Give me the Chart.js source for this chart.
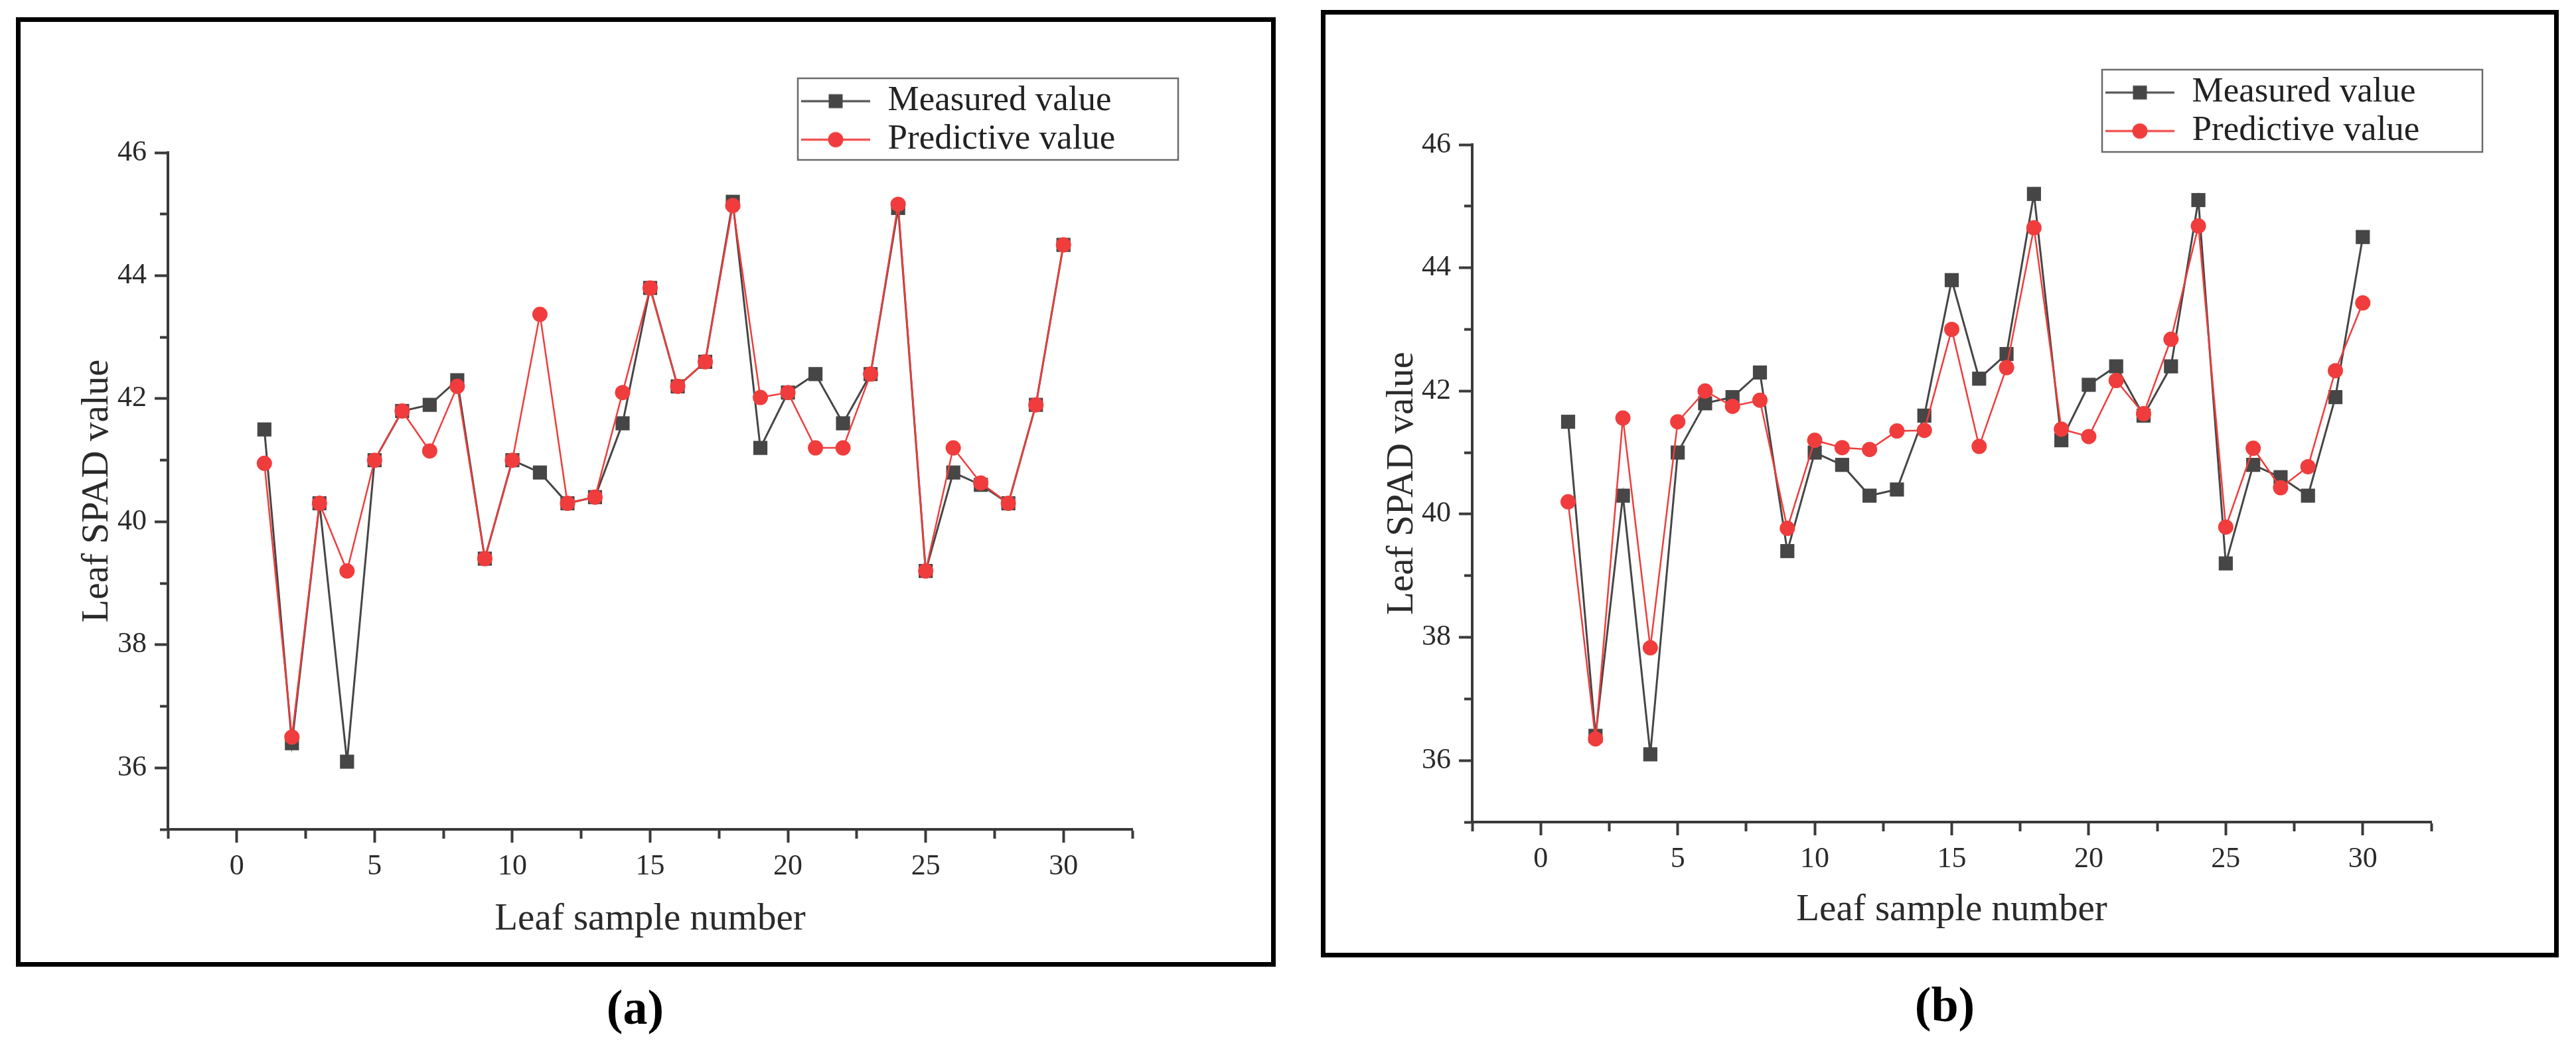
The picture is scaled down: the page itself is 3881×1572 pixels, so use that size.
<!DOCTYPE html>
<html>
<head>
<meta charset="utf-8">
<script src="https://cdn.jsdelivr.net/npm/chart.js@4.4.1/dist/chart.umd.min.js"></script>
<style>
  html, body { margin: 0; padding: 0; background: #fff; }
  body { width: 3881px; height: 1572px; position: relative; overflow: hidden; }
  .frame { position: absolute; border: 7px solid #000; box-sizing: border-box; background: #fff; }
  .frame canvas { position: absolute; left: 0; top: 0; }
  .tag { position: absolute; width: 200px; text-align: center; font: bold 74px "Liberation Serif", serif; line-height: 80px; color: #000; }
</style>
</head>
<body>
<div class="frame" style="left:24px; top:26px; width:1898px; height:1431px;">
  <canvas id="chartA" width="1884" height="1417"></canvas>
</div>
<div class="frame" style="left:1990px; top:15px; width:1865px; height:1428px;">
  <canvas id="chartB" width="1851" height="1414"></canvas>
</div>
<div class="tag" style="left:857px; top:1478px;">(a)</div>
<div class="tag" style="left:2830px; top:1474px;">(b)</div>

<script>
// Leaf SPAD values: measured vs predicted, two models (a) and (b)
const sampleNo = [1, 2, 3, 4, 5, 6, 7, 8, 9, 10, 11, 12, 13, 14, 15,
                  16, 17, 18, 19, 20, 21, 22, 23, 24, 25, 26, 27, 28, 29, 30];
const measured = [41.5, 36.4, 40.3, 36.1, 41.0, 41.8, 41.9, 42.3, 39.4, 41.0,
                  40.8, 40.3, 40.4, 41.6, 43.8, 42.2, 42.6, 45.2, 41.2, 42.1,
                  42.4, 41.6, 42.4, 45.1, 39.2, 40.8, 40.6, 40.3, 41.9, 44.5];
const predictedA = [40.95, 36.5, 40.3, 39.2, 41.0, 41.8, 41.15, 42.2, 39.4, 41.0,
                    43.37, 40.3, 40.4, 42.1, 43.8, 42.2, 42.6, 45.14, 42.02, 42.1,
                    41.2, 41.2, 42.4, 45.16, 39.2, 41.2, 40.63, 40.3, 41.9, 44.5];
const predictedB = [40.2, 36.35, 41.56, 37.83, 41.5, 42.0, 41.75, 41.85, 39.77, 41.2,
                    41.08, 41.05, 41.35, 41.36, 43.0, 41.1, 42.38, 44.65, 41.38, 41.26,
                    42.17, 41.63, 42.84, 44.68, 39.79, 41.07, 40.43, 40.77, 42.33, 43.43];

const xTickLabels = [0, 5, 10, 15, 20, 25, 30];
const yTickLabels = [36, 38, 40, 42, 44, 46];
const xRange = [-2.5, 32.5];
const yRange = [35, 46];

const grayC = '#464646';
const redC = '#f03c3c';
const axisC = '#3a3a3a';

Chart.defaults.font.family = '"Liberation Serif", "Times New Roman", serif';
Chart.defaults.color = '#2a2a2a';

// little line+marker icons for the legend (Origin style)
function legendIcon(color, shape) {
    const c = document.createElement('canvas');
    c.width = 104; c.height = 30;
    const g = c.getContext('2d');
    g.strokeStyle = color;
    g.lineWidth = 3;
    g.beginPath(); g.moveTo(0, 15); g.lineTo(104, 15); g.stroke();
    g.fillStyle = color;
    if (shape === 'rect') {
        g.fillRect(52 - 10.5, 15 - 10.5, 21, 21);
    } else {
        g.beginPath(); g.arc(52, 15, 11.5, 0, Math.PI * 2); g.fill();
    }
    return c;
}
const icons = [legendIcon(grayC, 'rect'), legendIcon(redC, 'circle')];

// move the legend to a fixed spot and draw a box round it
const legendFrame = {
    id: 'legendFrame',
    beforeDraw(chart, args, opts) {
        const lg = chart.legend;
        lg.left = opts.x + 0;
        lg.top = opts.y + 3;
        lg.right = opts.x + opts.w;
        lg.bottom = opts.y + 1000;   // keep both items in one column
    },
    afterDraw(chart, args, opts) {
        const ctx = chart.ctx;
        ctx.save();
        ctx.strokeStyle = '#6a6a6a';
        ctx.lineWidth = 2.5;
        ctx.strokeRect(opts.x, opts.y, opts.w, opts.h);
        ctx.restore();
    }
};

function points(ys) {
    return sampleNo.map((x, i) => ({x: x, y: ys[i]}));
}

function makeChart(id, predicted, lay) {
    const ctx = document.getElementById(id).getContext('2d');
    return new Chart(ctx, {
        type: 'line',
        data: {
            datasets: [{
                label: 'Measured value',
                data: points(measured),
                borderColor: grayC,
                backgroundColor: grayC,
                borderWidth: 3,
                pointStyle: 'rect',
                pointRadius: 15,
                pointBorderWidth: 0,
                order: 1
            }, {
                label: 'Predictive value',
                data: points(predicted),
                borderColor: redC,
                backgroundColor: redC,
                borderWidth: 2.5,
                pointStyle: 'circle',
                pointRadius: 11.5,
                pointBorderWidth: 0,
                order: 0
            }]
        },
        options: {
            responsive: false,
            animation: false,
            layout: { padding: { left: 0, top: lay.top, right: lay.right, bottom: 0 } },
            plugins: {
                tooltip: { enabled: false },
                legend: {
                    position: 'chartArea',
                    align: 'start',
                    labels: {
                        usePointStyle: true,
                        pointStyleWidth: 104,
                        padding: 5,
                        color: '#222',
                        font: { size: 53 },
                        sort: (a, b) => a.datasetIndex - b.datasetIndex,
                        generateLabels: chart => Chart.defaults.plugins.legend.labels.generateLabels(chart)
                            .map(item => Object.assign(item, { pointStyle: icons[item.datasetIndex] }))
                    }
                },
                legendFrame: lay.legend
            },
            scales: {
                x: {
                    type: 'linear',
                    min: xRange[0],
                    max: xRange[1],
                    border: { color: axisC, width: 4 },
                    grid: {
                        drawOnChartArea: false,
                        tickLength: 20,
                        tickWidth: 4,
                        tickColor: axisC,
                        tickBorderDash: c => (c.tick && xTickLabels.includes(c.tick.value)) ? [] : [12, 40]
                    },
                    ticks: {
                        stepSize: 2.5,
                        autoSkip: false,
                        maxRotation: 0,
                        padding: 10,
                        font: { size: 44 },
                        callback: v => xTickLabels.includes(v) ? String(v) : ''
                    },
                    title: {
                        display: true,
                        text: 'Leaf sample number',
                        font: { size: 57 },
                        padding: { top: 0, bottom: 30 }
                    },
                    afterFit: s => { s.height = lay.xHeight; }
                },
                y: {
                    type: 'linear',
                    min: yRange[0],
                    max: yRange[1],
                    border: { color: axisC, width: 4 },
                    grid: {
                        drawOnChartArea: false,
                        tickLength: 20,
                        tickWidth: 4,
                        tickColor: axisC,
                        tickBorderDash: c => (c.tick && yTickLabels.includes(c.tick.value)) ? [] : [0, 8, 14, 40]
                    },
                    ticks: {
                        stepSize: 1,
                        autoSkip: false,
                        padding: 12,
                        font: { size: 44 },
                        callback: v => yTickLabels.includes(v) ? String(v) : ''
                    },
                    title: {
                        display: true,
                        text: 'Leaf SPAD value',
                        font: { size: 57 },
                        padding: { top: 82, bottom: 0 }
                    },
                    afterFit: s => { s.width = lay.yWidth; }
                }
            }
        },
        plugins: [legendFrame]
    });
}

makeChart('chartA', predictedA, {
    top: 197, right: 209, yWidth: 222, xHeight: 200,
    legend: { x: 1171, y: 85, w: 573, h: 123 }
});
makeChart('chartB', predictedB, {
    top: 196, right: 185, yWidth: 221, xHeight: 197,
    legend: { x: 1170, y: 83, w: 573, h: 124 }
});
</script>
</body>
</html>
